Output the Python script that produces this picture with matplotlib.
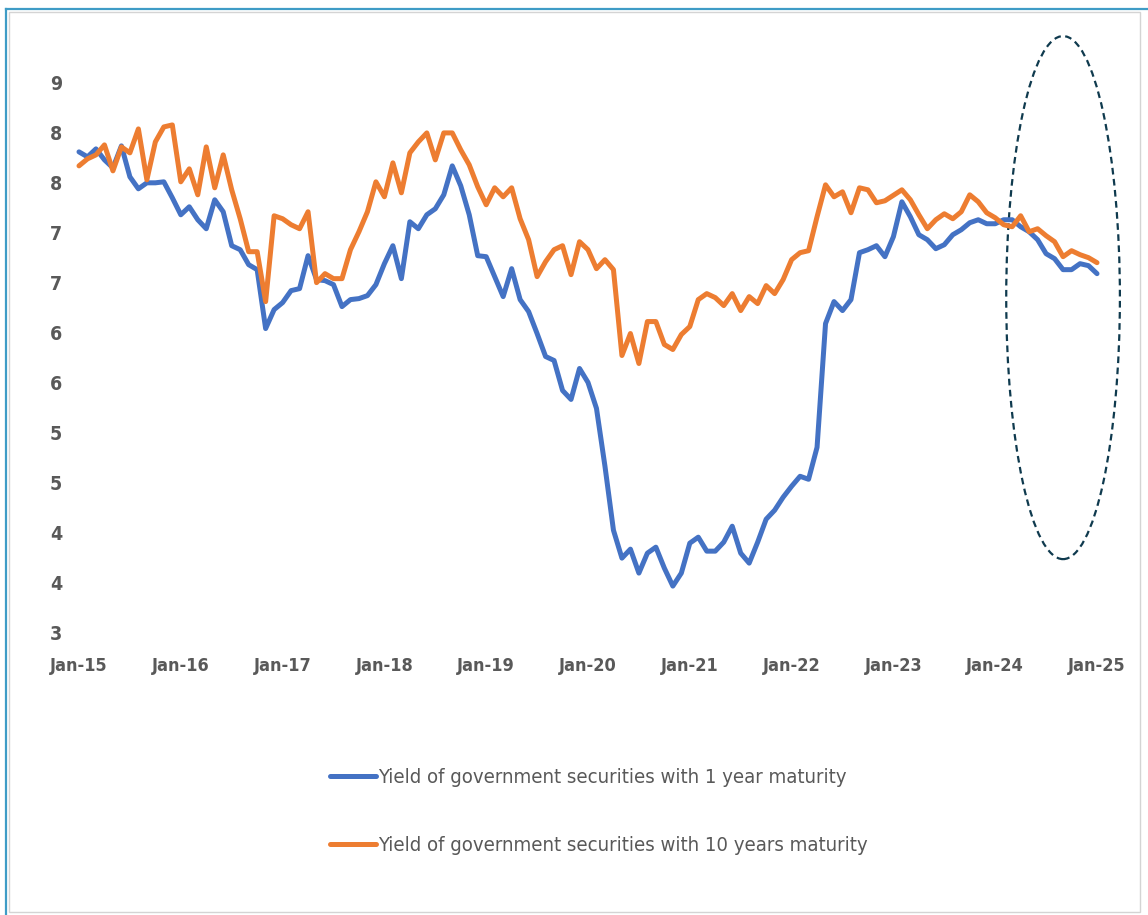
import math
import matplotlib
matplotlib.use("Agg")
import matplotlib.pyplot as plt
from matplotlib.patches import Ellipse, Rectangle
from matplotlib.lines import Line2D
from matplotlib.ticker import FixedLocator, FuncFormatter

plt.rcParams['font.family'] = ['DejaVu Sans']
plt.rcParams['font.stretch'] = 'condensed'

# monthly yields, Jan-15 .. Jan-25
yield_1y = [
    7.81, 7.76, 7.84, 7.73, 7.65, 7.87, 7.56, 7.44, 7.50, 7.50, 7.51, 7.35,
    7.18, 7.26, 7.13, 7.04, 7.33, 7.21, 6.87, 6.83, 6.68, 6.63, 6.04, 6.23,
    6.30, 6.42, 6.44, 6.77, 6.53, 6.52, 6.48, 6.26, 6.33, 6.34, 6.37, 6.48,
    6.69, 6.87, 6.54, 7.11, 7.04, 7.18, 7.24, 7.38, 7.67, 7.47, 7.18, 6.77,
    6.76, 6.56, 6.36, 6.64, 6.33, 6.21, 5.99, 5.76, 5.72, 5.42, 5.33, 5.64,
    5.50, 5.24, 4.66, 4.02, 3.74, 3.83, 3.59, 3.79, 3.85, 3.64, 3.46, 3.59,
    3.89, 3.95, 3.81, 3.81, 3.90, 4.06, 3.79, 3.69, 3.90, 4.13, 4.22, 4.35,
    4.46, 4.56, 4.53, 4.85, 6.09, 6.31, 6.22, 6.33, 6.80, 6.83, 6.87, 6.76,
    6.96, 7.31, 7.16, 6.98, 6.93, 6.84, 6.88, 6.98, 7.03, 7.10, 7.13, 7.09,
    7.09, 7.13, 7.13, 7.06, 7.01, 6.93, 6.79, 6.74, 6.63, 6.63, 6.69, 6.67,
    6.59,
]
yield_10y = [
    7.67, 7.74, 7.78, 7.88, 7.62, 7.86, 7.80, 8.04, 7.53, 7.91, 8.06, 8.08,
    7.51, 7.64, 7.38, 7.86, 7.45, 7.78, 7.43, 7.14, 6.81, 6.81, 6.31, 7.17,
    7.14, 7.08, 7.04, 7.21, 6.50, 6.59, 6.54, 6.54, 6.83, 7.01, 7.21, 7.51,
    7.36, 7.70, 7.40, 7.80, 7.91, 8.00, 7.73, 8.00, 8.00, 7.83, 7.68, 7.46,
    7.28, 7.45, 7.36, 7.45, 7.14, 6.93, 6.56, 6.71, 6.83, 6.87, 6.58, 6.91,
    6.83, 6.64, 6.73, 6.63, 5.77, 5.99, 5.69, 6.11, 6.11, 5.88, 5.83, 5.98,
    6.06, 6.33, 6.39, 6.35, 6.27, 6.39, 6.22, 6.36, 6.29, 6.47, 6.39, 6.53,
    6.73, 6.80, 6.82, 7.16, 7.48, 7.36, 7.41, 7.20, 7.45, 7.43, 7.30, 7.32,
    7.375, 7.43, 7.33, 7.18, 7.04, 7.13, 7.19, 7.14, 7.21, 7.38, 7.31, 7.20,
    7.15, 7.08, 7.06, 7.17, 7.01, 7.04, 6.97, 6.91, 6.76, 6.82, 6.78, 6.75,
    6.70,
]
year_labels = ["Jan-15", "Jan-16", "Jan-17", "Jan-18", "Jan-19", "Jan-20",
               "Jan-21", "Jan-22", "Jan-23", "Jan-24", "Jan-25"]
label_1y = "Yield of government securities with 1 year maturity"
label_10y = "Yield of government securities with 10 years maturity"

months = list(range(len(yield_1y)))

W, H = 1148, 915
fig = plt.figure(figsize=(W / 100, H / 100), dpi=100)

# frame around the chart
fig.add_artist(Rectangle((9 / W, 3 / H), 1131 / W, 900 / H, transform=fig.transFigure,
                         fill=False, edgecolor="#d4d4d4", lw=1.0))
fig.add_artist(Line2D([6 / W, 6 / W], [0, 1 - 9 / H], transform=fig.transFigure,
                      color="#3f9cc6", lw=1.6))
fig.add_artist(Line2D([6 / W, 1], [1 - 9 / H, 1 - 9 / H], transform=fig.transFigure,
                      color="#3f9cc6", lw=1.6))

ax = fig.add_axes([79 / W, 1 - 632 / H, 1018 / W, 549 / H])
ax.plot(months, yield_1y, color="#4472C4", lw=3.6, solid_joinstyle="round",
        solid_capstyle="round", clip_on=False, label=label_1y)
ax.plot(months, yield_10y, color="#ED7D31", lw=3.6, solid_joinstyle="round",
        solid_capstyle="round", clip_on=False, label=label_10y)

ax.set_xlim(0, len(months) - 1)
ax.set_ylim(3, 8.5)
for s in ax.spines.values():
    s.set_visible(False)

ax.xaxis.set_major_locator(FixedLocator([12 * k for k in range(len(year_labels))]))
ax.xaxis.set_major_formatter(FuncFormatter(lambda v, p: year_labels[int(round(v / 12))]))
ax.yaxis.set_major_locator(FixedLocator([3 + 0.5 * k for k in range(12)]))
# whole-number labels, halves rounded up
ax.yaxis.set_major_formatter(FuncFormatter(lambda v, p: str(int(math.floor(v + 0.5)))))
ax.tick_params(axis="both", length=0, labelcolor="#595959")
ax.tick_params(axis="x", pad=18, labelsize=13)
ax.tick_params(axis="y", pad=12, labelsize=14)
for t in ax.get_xticklabels() + ax.get_yticklabels():
    t.set_fontweight("bold")

# dashed ring over the last year
ax.add_patch(Ellipse((116.0, 6.35), 13.4, 5.24, fill=False, edgecolor="#0f3a4e",
                     lw=1.6, ls=(0, (3, 2)), clip_on=False))

fig.legend(loc="upper left", bbox_to_anchor=(330 / W, 1 - 768 / H), frameon=False,
           fontsize=14.6, labelcolor="#595959", handlelength=2.25, handletextpad=0.1,
           borderpad=0, borderaxespad=0, labelspacing=2.4)

fig.savefig("out.png", dpi=100)
